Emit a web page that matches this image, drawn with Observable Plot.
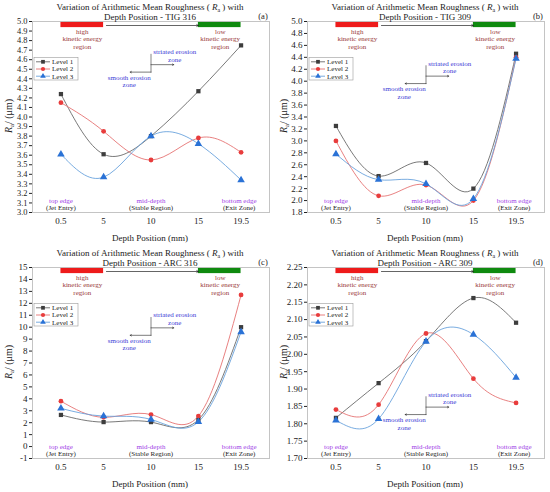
<!DOCTYPE html>
<html>
<head>
<meta charset="utf-8">
<script src="https://cdn.jsdelivr.net/npm/d3@7"></script>
<script src="https://cdn.jsdelivr.net/npm/@observablehq/plot@0.6"></script>
<style>
  html, body { margin: 0; padding: 0; background: white; }
  #wrap { position: relative; width: 550px; height: 492px; overflow: hidden; }
  .panel { position: absolute; width: 275px; height: 246px; }
  svg { overflow: visible; }
</style>
</head>
<body>
<div id="wrap"></div>
<script>
// ---------- data ----------
const depth = [0.5, 5, 10, 15, 19.5];
const xTickLabels = ["0.5", "5", "10", "15", "19.5"];
const levelNames = ["Level 1", "Level 2", "Level 3"];

const tig316Level1 = [4.24, 3.61, 3.80, 4.27, 4.75];
const tig316Level2 = [4.15, 3.85, 3.55, 3.78, 3.63];
const tig316Level3 = [3.61, 3.37, 3.80, 3.72, 3.34];

const tig309Level1 = [3.25, 2.41, 2.63, 2.20, 4.46];
const tig309Level2 = [3.00, 2.08, 2.26, 2.00, 4.40];
const tig309Level3 = [2.78, 2.35, 2.28, 2.03, 4.38];

const arc316Level1 = [2.65, 2.05, 2.05, 2.25, 10.0];
const arc316Level2 = [3.80, 2.45, 2.68, 2.55, 12.7];
const arc316Level3 = [3.20, 2.55, 2.27, 2.07, 9.6];

const arc309Level1 = [1.817, 1.917, 2.038, 2.162, 2.091];
const arc309Level2 = [1.841, 1.855, 2.060, 1.930, 1.860];
const arc309Level3 = [1.810, 1.814, 2.037, 2.057, 1.933];

const yTicksA = [3.0,3.1,3.2,3.3,3.4,3.5,3.6,3.7,3.8,3.9,4.0,4.1,4.2,4.3,4.4,4.5,4.6,4.7,4.8,4.9,5.0];
const yTicksB = [1.8,2.0,2.2,2.4,2.6,2.8,3.0,3.2,3.4,3.6,3.8,4.0,4.2,4.4,4.6,4.8,5.0];
const yTicksC = [-1,0,1,2,3,4,5,6,7,8,9,10,11,12,13,14,15];
const yTicksD = [1.70,1.75,1.80,1.85,1.90,1.95,2.00,2.05,2.10,2.15,2.20,2.25];

const titleLine2 = ["Depth Position - TIG 316", "Depth Position - TIG 309", "Depth Position - ARC 316", "Depth Position - ARC 309"];
const panelLabels = ["(a)", "(b)", "(c)", "(d)"];
const edgeTop = ["top edge", "mid-depth", "bottom edge"];
const edgeSub = ["(Jet Entry)", "(Stable Region)", "(Exit Zone)"];

// ---------- styling ----------
const FONT = "'Liberation Serif', 'Times New Roman', serif";
const lineColors = ["#6a6a6a", "#e57373", "#6aa3dd"];
const dotColors = ["#3d3d3d", "#e83c3c", "#2a72d6"];
const symbols = ["square", "circle", "triangle"];
const brown = "#9a3a3a", blueTxt = "#3b3bd6", purple = "#a040e6";

const panels = [
  {series: [tig316Level1, tig316Level2, tig316Level3], domain: [3, 5], ticks: yTicksA, fmt: d => d.toFixed(1), zone: 0.16, tickFont: 8.4},
  {series: [tig309Level1, tig309Level2, tig309Level3], domain: [1.8, 5], ticks: yTicksB, fmt: d => d.toFixed(1), zone: 0.22, tickFont: 9},
  {series: [arc316Level1, arc316Level2, arc316Level3], domain: [-1, 15], ticks: yTicksC, fmt: d => String(d), zone: 0.25, tickFont: 9},
  {series: [arc309Level1, arc309Level2, arc309Level3], domain: [1.70, 2.25], ticks: yTicksD, fmt: d => d.toFixed(2), zone: 0.665, tickFont: 9}
];

function makePanel(p, idx) {
  const [y0, y1] = p.domain;
  const fy = f => y1 - f * (y1 - y0);
  const z = p.zone;
  const annSize = 7;

  const marks = [
    Plot.frame({stroke: "#c4c4c4"}),
    // energy bars
    Plot.rect([{a: 0.5, b: 5, c: fy(0.032), d: fy(0.005), f: "#ee1b1b"}, {a: 15, b: 19.5, c: fy(0.032), d: fy(0.005), f: "#0f8a0f"}],
      {x1: "a", x2: "b", y1: "c", y2: "d", fill: "f"}),
    Plot.arrow([{a: 5.3, b: 15, c: fy(0.021)}], {x1: "a", x2: "b", y1: "c", y2: "c", stroke: "#222", strokeWidth: 0.7, headLength: 4}),
    Plot.text([
      {x: 2.75, t: "high\nkinetic energy\nregion"},
      {x: 17.3, t: "low\nkinetic energy\nregion"}
    ], {x: "x", y: fy(0.092), text: "t", fill: brown, fontSize: annSize, lineHeight: 1.08}),
    // erosion zone annotation
    Plot.ruleX([{x: 10, a: fy(z + 0.012), b: fy(z + 0.11)}], {x: "x", y1: "a", y2: "b", stroke: "#333", strokeWidth: 0.6}),
    Plot.arrow([{a: 10, b: 12.4, c: fy(z + 0.066)}], {x1: "a", x2: "b", y1: "c", y2: "c", stroke: "#222", strokeWidth: 0.6, headLength: 3.5}),
    Plot.arrow([{a: 10, b: 7.8, c: fy(z + 0.105)}], {x1: "a", x2: "b", y1: "c", y2: "c", stroke: "#222", strokeWidth: 0.6, headLength: 3.5}),
    Plot.text([
      {x: 12.5, y: fy(z + 0.0185), t: "striated erosion\nzone"},
      {x: 7.7, y: fy(z + 0.152), t: "smooth erosion\nzone"}
    ], {x: "x", y: "y", text: "t", fill: blueTxt, fontSize: annSize, lineHeight: 1.08}),
    // edge labels
    Plot.text([0, 1, 2].map(i => ({x: [0.5, 10, 19.3][i], t: edgeTop[i] + "\n" + edgeSub[i]})),
      {x: "x", y: fy(0.955), text: "t", fill: purple, fontSize: annSize, lineHeight: 1.08})
  ];

  p.series.forEach((vals, i) => {
    const rows = vals.map((v, j) => ({x: depth[j], y: v}));
    marks.push(Plot.line(rows, {x: "x", y: "y", stroke: lineColors[i], strokeWidth: 0.9, curve: "natural"}));
  });
  p.series.forEach((vals, i) => {
    const rows = vals.map((v, j) => ({x: depth[j], y: v}));
    marks.push(Plot.dot(rows, {x: "x", y: "y", symbol: symbols[i], fill: dotColors[i], r: i === 2 ? 2.8 : 2.4, stroke: "none"}));
  });

  const plot = Plot.plot({
    width: 275, height: 246,
    marginLeft: 32, marginRight: 6, marginTop: 21, marginBottom: 34,
    style: {fontFamily: FONT, fontSize: "9px", background: "white", color: "#222"},
    x: {domain: [-2.5, 22.5], ticks: depth, tickFormat: (d, i) => xTickLabels[i], tickSize: 0, tickPadding: 5, label: null},
    y: {domain: p.domain, ticks: p.ticks, tickFormat: p.fmt, tickSize: 3, tickPadding: 2, label: null},
    marks: [...marks, Plot.axisY({ticks: p.ticks, tickFormat: p.fmt, tickSize: 3, tickPadding: 2, label: null, fontSize: p.tickFont})]
  });

  const svg = d3.select(plot);
  // recolour the second line of the edge labels
  svg.selectAll("tspan").filter(function () { return edgeSub.includes(this.textContent); }).attr("fill", "#222");

  // title (one text element, two lines)
  const t1 = svg.append("text").attr("text-anchor", "middle")
    .attr("font-size", 9).attr("font-family", FONT).attr("fill", "#222");
  t1.append("tspan").attr("x", 150).attr("y", 10.2).text("Variation of Arithmetic Mean Roughness ( ");
  t1.append("tspan").attr("font-style", "italic").text("R");
  t1.append("tspan").attr("font-size", 6).attr("dy", 2).text("a");
  t1.append("tspan").attr("dy", -2).text(" ) with");
  t1.append("tspan").attr("x", 150).attr("y", 19.8).text(titleLine2[idx]);
  svg.append("text").attr("x", 263).attr("y", 18.5).attr("text-anchor", "middle")
    .attr("font-size", 8.5).attr("font-family", FONT).attr("fill", "#222").text(panelLabels[idx]);
  // x title
  svg.append("text").attr("x", 150).attr("y", 241).attr("text-anchor", "middle")
    .attr("font-size", 9).attr("font-family", FONT).attr("fill", "#222").text("Depth Position (mm)");
  // y title
  const yl = svg.append("text").attr("transform", "translate(12,116) rotate(-90)").attr("text-anchor", "middle")
    .attr("font-size", 10).attr("font-family", FONT).attr("fill", "#222");
  yl.append("tspan").attr("font-style", "italic").text("R");
  yl.append("tspan").attr("font-size", 6.5).attr("dy", 2).text("a");
  yl.append("tspan").attr("dy", -2).text("/ (μm)");
  // legend
  const lg = svg.append("g").attr("font-family", FONT).attr("font-size", 7);
  lg.append("rect").attr("x", 34).attr("y", 57.5).attr("width", 44).attr("height", 22.5)
    .attr("fill", "white").attr("stroke", "#9a9a9a").attr("stroke-width", 0.6);
  const symMap = {square: d3.symbolSquare, circle: d3.symbolCircle, triangle: d3.symbolTriangle};
  const lt = lg.append("text").attr("text-anchor", "start").attr("fill", "#222");
  levelNames.forEach((name, i) => {
    const yy = 61.8 + i * 7.2;
    lg.append("line").attr("x1", 36).attr("x2", 50).attr("y1", yy).attr("y2", yy)
      .attr("stroke", lineColors[i]).attr("stroke-width", 0.9);
    lg.append("path").attr("d", d3.symbol(symMap[symbols[i]], 14)()).attr("transform", `translate(43,${yy})`)
      .attr("fill", dotColors[i]);
    lt.append("tspan").attr("x", 52).attr("y", yy + 2.4).text(name);
  });
  return plot;
}

const wrap = document.getElementById("wrap");
const pos = [[0, 0], [275, 0], [0, 246], [275, 246]];
panels.forEach((p, i) => {
  const div = document.createElement("div");
  div.className = "panel";
  div.style.left = pos[i][0] + "px";
  div.style.top = pos[i][1] + "px";
  div.appendChild(makePanel(p, i));
  wrap.appendChild(div);
});
</script>
</body>
</html>
